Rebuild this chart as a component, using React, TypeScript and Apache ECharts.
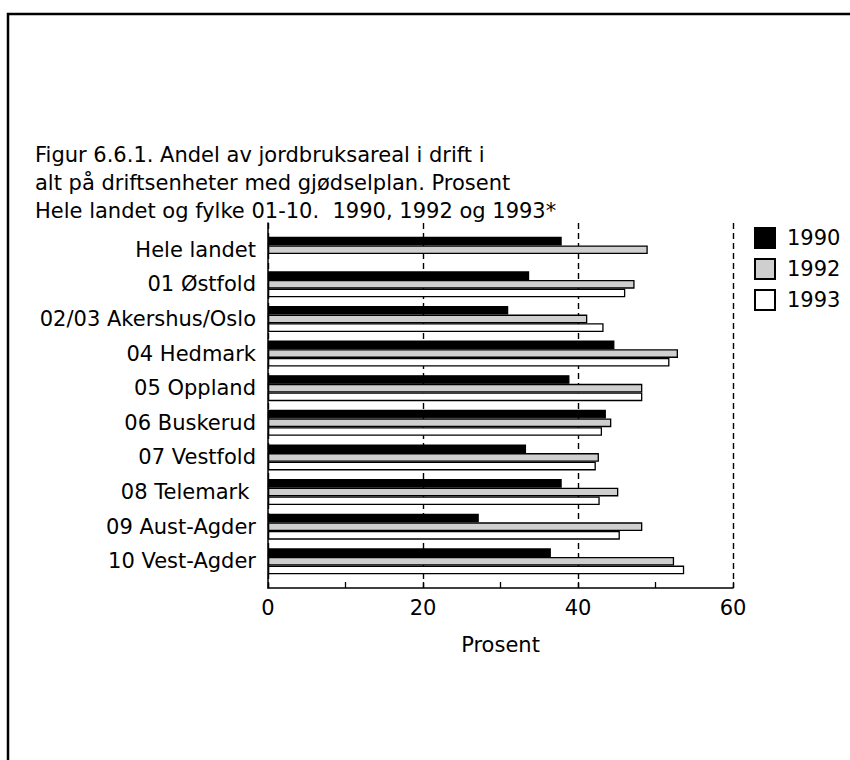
import React, { useEffect, useRef } from "react";
import * as echarts from "echarts";

const categories = [
  "Hele landet",
  "01 Østfold",
  "02/03 Akershus/Oslo",
  "04 Hedmark",
  "05 Oppland",
  "06 Buskerud",
  "07 Vestfold",
  "08 Telemark ",
  "09 Aust-Agder",
  "10 Vest-Agder",
];
const v1990 = [37.9, 33.7, 31.0, 44.7, 38.9, 43.6, 33.3, 37.9, 27.2, 36.5];
const v1992 = [49.0, 47.3, 41.2, 52.9, 48.3, 44.3, 42.7, 45.2, 48.3, 52.4];
const v1993: (number | null)[] = [null, 46.1, 43.3, 51.8, 48.3, 43.1, 42.3, 42.8, 45.4, 53.7];
const seriesNames = ["1990", "1992", "1993"];
const xTicks = { min: 0, max: 60, minor: 10, major: 20 };
const titleLines = [
  "Figur 6.6.1. Andel av jordbruksareal i drift i",
  "alt på driftsenheter med gjødselplan. Prosent",
  "Hele landet og fylke 01-10.  1990, 1992 og 1993*",
];
const axisName = "Prosent";

const FONT = "DejaVu Sans";

export default function App() {
  const ref = useRef<HTMLDivElement>(null);
  useEffect(() => {
    if (!ref.current) return;
    const chart = echarts.init(ref.current, undefined, { renderer: "svg" });
    const left = 268;
    const right = 850 - 733;
    const border = { borderColor: "#000", borderWidth: 1.3 };
    chart.setOption({
      animation: false,
      backgroundColor: "#fff",
      textStyle: { fontFamily: FONT, color: "#000" },
      title: {
        text: titleLines.join("\n"),
        left: 30,
        top: 136,
        textStyle: {
          fontFamily: FONT,
          fontSize: 21,
          fontWeight: "normal",
          lineHeight: 28,
          color: "#000",
        },
      },
      legend: {
        orient: "vertical",
        left: 749,
        top: 222,
        itemWidth: 20,
        itemHeight: 20,
        itemGap: 9,
        icon: "rect",
        data: seriesNames,
        textStyle: { fontFamily: FONT, fontSize: 21, color: "#000", padding: [0, 0, 0, 7] },
      },
      graphic: [
        {
          type: "rect",
          shape: { x: 8, y: 14, width: 900, height: 800 },
          style: { fill: "none", stroke: "#000", lineWidth: 2.5 },
          silent: true,
        },
      ],
      grid: [
        { left, right, top: 223, height: 365, containLabel: false },
        { left, right, top: 232.4, height: 346.2, containLabel: false },
      ],
      xAxis: [
        {
          gridIndex: 0,
          type: "value",
          min: xTicks.min,
          max: xTicks.max,
          interval: xTicks.minor,
          axisLine: { show: true, lineStyle: { color: "#000", width: 1.5 } },
          axisTick: { show: true, inside: true, length: 6, lineStyle: { color: "#000", width: 1.3 } },
          axisLabel: {
            fontFamily: FONT,
            fontSize: 21,
            color: "#000",
            margin: 9,
            formatter: (v: number) => (v % xTicks.major === 0 ? String(v) : ""),
          },
          splitLine: { show: false },
          name: axisName,
          nameLocation: "middle",
          nameGap: 46,
          nameTextStyle: { fontFamily: FONT, fontSize: 21, color: "#000" },
        },
        {
          gridIndex: 0,
          type: "value",
          min: xTicks.min,
          max: xTicks.max,
          interval: xTicks.major,
          axisLine: { show: false },
          axisTick: { show: false },
          axisLabel: { show: false },
          splitLine: { show: true, lineStyle: { color: "#000", width: 1.4, type: [6, 4] } },
        },
        {
          gridIndex: 1,
          type: "value",
          min: xTicks.min,
          max: xTicks.max,
          show: false,
        },
      ],
      yAxis: [
        {
          gridIndex: 0,
          type: "value",
          min: 0,
          max: 1,
          axisLine: { show: true, onZero: false, lineStyle: { color: "#000", width: 1.5 } },
          axisTick: { show: false },
          axisLabel: { show: false },
          splitLine: { show: false },
        },
        {
          gridIndex: 1,
          type: "category",
          inverse: true,
          data: categories,
          axisLine: { show: false },
          axisTick: { show: false },
          axisLabel: { fontFamily: FONT, fontSize: 21, color: "#000", margin: 12 },
        },
      ],
      series: [
        {
          name: seriesNames[0],
          type: "bar",
          xAxisIndex: 2,
          yAxisIndex: 1,
          data: v1990,
          barGap: "0%",
          barCategoryGap: "25%",
          itemStyle: { color: "#000", ...border },
        },
        {
          name: seriesNames[1],
          type: "bar",
          xAxisIndex: 2,
          yAxisIndex: 1,
          data: v1992,
          itemStyle: { color: "#cfcfcf", ...border },
        },
        {
          name: seriesNames[2],
          type: "bar",
          xAxisIndex: 2,
          yAxisIndex: 1,
          data: v1993,
          itemStyle: { color: "#fff", ...border },
        },
      ],
    });
    return () => chart.dispose();
  }, []);
  return (
    <div
      ref={ref}
      style={{ position: "absolute", left: 0, top: 0, width: 850, height: 760, background: "#fff" }}
    />
  );
}
